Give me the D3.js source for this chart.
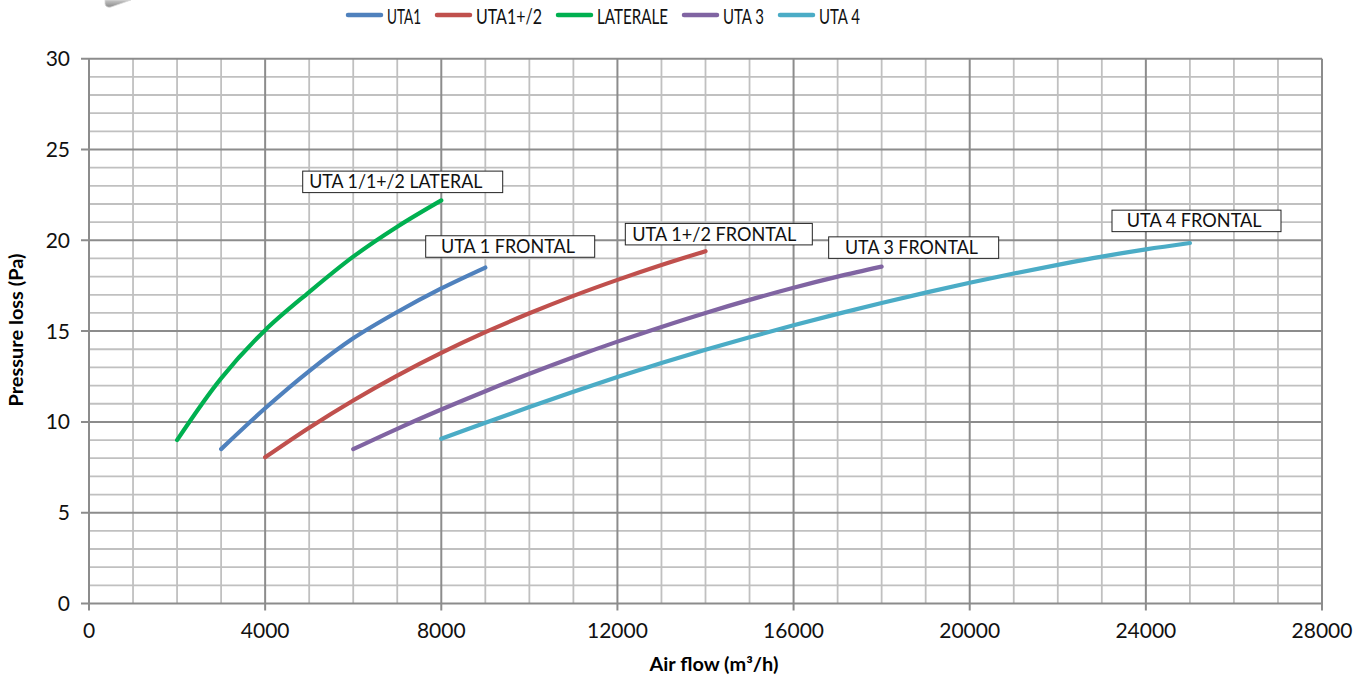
<!DOCTYPE html>
<html>
<head>
<meta charset="utf-8">
<script src="https://cdn.jsdelivr.net/npm/d3@7"></script>
<style>
  body { margin: 0; background: #fff; }
  svg { display: block; font-family: Lato, "Open Sans", sans-serif; }
</style>
</head>
<body>
<div id="chart"></div>
<script>
// valori (portata m3/h -> perdita di carico Pa)
const flowLaterale = [2000, 3000, 4000, 5000, 6000, 7000, 8000];
const lossLaterale = [9.0, 12.4, 15.05, 17.15, 19.1, 20.75, 22.2];

const flowUta1 = [3000, 4000, 5000, 6000, 7000, 8000, 9000];
const lossUta1 = [8.5, 10.75, 12.8, 14.6, 16.05, 17.35, 18.5];

const flowUta12 = [4000, 5000, 6000, 7000, 8000, 9000, 10000, 11000, 12000, 13000, 14000];
const lossUta12 = [8.05, 9.68, 11.18, 12.55, 13.8, 14.94, 15.98, 16.94, 17.82, 18.64, 19.4];

const flowUta3 = [6000, 7000, 8000, 9000, 10000, 11000, 12000, 13000, 14000, 15000, 16000, 17000, 18000];
const lossUta3 = [8.5, 9.62, 10.68, 11.69, 12.65, 13.56, 14.42, 15.23, 16.0, 16.72, 17.39, 18.0, 18.55];

const flowUta4 = [8000, 9000, 10000, 11000, 12000, 13000, 14000, 15000, 16000, 17000, 18000, 19000, 20000, 21000, 22000, 23000, 24000, 25000];
const lossUta4 = [9.07, 9.95, 10.82, 11.66, 12.47, 13.24, 13.97, 14.66, 15.32, 15.95, 16.55, 17.12, 17.66, 18.17, 18.65, 19.1, 19.5, 19.85];

const legendNames = ["UTA1", "UTA1+/2", "LATERALE", "UTA 3", "UTA 4"];
const seriesColors = ["#4F81BD", "#C0504D", "#00B050", "#8064A2", "#4BACC6"];

const xTicks = [0, 4000, 8000, 12000, 16000, 20000, 24000, 28000];
const yTicks = [0, 5, 10, 15, 20, 25, 30];

// etichette: testo e angolo in alto a sinistra (in unita' del grafico)
const labelNames = ["UTA 1/1+/2 LATERAL", "UTA 1 FRONTAL", "UTA 1+/2 FRONTAL", "UTA 3 FRONTAL", "UTA 4 FRONTAL"];
const labelFlow = [4853, 7646, 12179, 16797, 23231];
const labelLoss = [23.81, 20.25, 20.93, 20.19, 21.66];

const series = [
    { flow: flowUta1, loss: lossUta1 },
    { flow: flowUta12, loss: lossUta12 },
    { flow: flowLaterale, loss: lossLaterale },
    { flow: flowUta3, loss: lossUta3 },
    { flow: flowUta4, loss: lossUta4 }
];

var width = 1365, height = 679;
var margin = { top: 58.7, right: 43, bottom: 75.5, left: 89 };

var svg = d3.select("#chart").append("svg")
    .attr("width", width)
    .attr("height", height);

var x = d3.scaleLinear().domain([0, 28000]).range([margin.left, width - margin.right]);
var y = d3.scaleLinear().domain([0, 30]).range([height - margin.bottom, margin.top]);

// schiaccia un testo in orizzontale fino alla larghezza voluta
function squeeze(sel, px, py, w) {
    sel.each(function () {
        var len = this.getComputedTextLength();
        var sx = len > 0 ? w / len : 1;
        d3.select(this).attr("transform", `translate(${px},${py}) scale(${sx},1)`);
    });
}

// pezzo di immagine grigia tagliata in alto a sinistra
var grad = svg.append("defs").append("linearGradient")
    .attr("id", "grey").attr("x1", 0).attr("y1", 0).attr("x2", 0).attr("y2", 1);
grad.append("stop").attr("offset", "0%").attr("stop-color", "#c8c8c8");
grad.append("stop").attr("offset", "100%").attr("stop-color", "#8a8a8a");
svg.append("path")
    .attr("d", "M105,0 L105,4 Q106,8 111,7 L131,0 Z")
    .attr("fill", "url(#grey)")
    .attr("stroke", "#d8d8d8")
    .attr("stroke-width", 0.8);

// griglia secondaria (ogni 1000 m3/h e ogni 1 Pa)
var minorX = d3.range(0, 28001, 1000).filter(v => v % 4000 !== 0);
var minorY = d3.range(0, 31, 1).filter(v => v % 5 !== 0);

svg.append("g").selectAll("line")
    .data(minorX).enter().append("line")
    .attr("x1", d => x(d)).attr("x2", d => x(d))
    .attr("y1", y(0)).attr("y2", y(30))
    .attr("stroke", "#c0c0c0").attr("stroke-width", 1.8);

svg.append("g").selectAll("line")
    .data(minorY).enter().append("line")
    .attr("x1", x(0)).attr("x2", x(28000))
    .attr("y1", d => y(d)).attr("y2", d => y(d))
    .attr("stroke", "#c0c0c0").attr("stroke-width", 1.8);

// griglia principale + tacche
svg.append("g").selectAll("line")
    .data(xTicks).enter().append("line")
    .attr("x1", d => x(d)).attr("x2", d => x(d))
    .attr("y1", y(0) + 7).attr("y2", y(30))
    .attr("stroke", "#8c8c8c").attr("stroke-width", 2);

svg.append("g").selectAll("line")
    .data(yTicks).enter().append("line")
    .attr("x1", x(0) - 8).attr("x2", x(28000))
    .attr("y1", d => y(d)).attr("y2", d => y(d))
    .attr("stroke", "#8c8c8c").attr("stroke-width", 2);

// etichette assi
svg.append("g").selectAll("text")
    .data(xTicks).enter().append("text")
    .attr("x", d => x(d))
    .attr("y", y(0) + 34)
    .attr("text-anchor", "middle")
    .attr("font-size", 21)
    .attr("fill", "#111")
    .text(d => d);

svg.append("g").selectAll("text")
    .data(yTicks).enter().append("text")
    .attr("x", x(0) - 19)
    .attr("y", d => y(d))
    .attr("dy", "0.36em")
    .attr("text-anchor", "end")
    .attr("font-size", 21)
    .attr("fill", "#111")
    .text(d => d);

svg.append("text")
    .attr("x", 714)
    .attr("y", 671)
    .attr("text-anchor", "middle")
    .attr("font-size", 18)
    .attr("font-weight", "bold")
    .attr("textLength", 129)
    .attr("lengthAdjust", "spacingAndGlyphs")
    .text("Air flow (m³/h)");

svg.append("text")
    .attr("transform", "translate(23,330) rotate(-90)")
    .attr("text-anchor", "middle")
    .attr("font-size", 19)
    .attr("font-weight", "bold")
    .attr("textLength", 153)
    .attr("lengthAdjust", "spacingAndGlyphs")
    .text("Pressure loss (Pa)");

// curve (lisciate come in Excel)
var line = d3.line()
    .x(d => x(d[0]))
    .y(d => y(d[1]))
    .curve(d3.curveCatmullRom.alpha(0.5));

svg.append("g").selectAll("path")
    .data(series).enter().append("path")
    .attr("d", s => line(s.flow.map((f, i) => [f, s.loss[i]])))
    .attr("fill", "none")
    .attr("stroke", (s, i) => seriesColors[i])
    .attr("stroke-width", 4.2)
    .attr("stroke-linecap", "round");

// caselle di testo
var boxWidths = [200, 169, 187, 170, 169];
var textPad = [6.6, 15.3, 7, 16.3, 14.7];
var textLens = [173, 134, 164, 133, 135];

var labels = svg.append("g").selectAll("g")
    .data(labelNames).enter().append("g")
    .attr("transform", (d, i) => `translate(${x(labelFlow[i])},${y(labelLoss[i])})`);

labels.append("rect")
    .attr("width", (d, i) => boxWidths[i])
    .attr("height", 21.5)
    .attr("fill", "#fff")
    .attr("stroke", "#222")
    .attr("stroke-width", 1);

labels.append("text")
    .attr("x", (d, i) => textPad[i])
    .attr("y", 17.3)
    .attr("font-size", 19)
    .attr("fill", "#111")
    .attr("textLength", (d, i) => textLens[i])
    .attr("lengthAdjust", "spacingAndGlyphs")
    .text(d => d);

// legenda
var legendTextLens = [34, 66, 71, 41, 41];
var legendX = 348;
legendNames.forEach((name, i) => {
    var g = svg.append("g").attr("transform", `translate(${legendX},0)`);
    g.append("line")
        .attr("x1", 0).attr("x2", 33)
        .attr("y1", 15).attr("y2", 15)
        .attr("stroke", seriesColors[i])
        .attr("stroke-width", 4.5)
        .attr("stroke-linecap", "round");
    g.append("text")
        .attr("font-size", 22)
        .attr("fill", "#111")
        .text(name)
        .call(squeeze, 39, 23.5, legendTextLens[i]);
    legendX += 39 + legendTextLens[i] + 16;
});
</script>
</body>
</html>
